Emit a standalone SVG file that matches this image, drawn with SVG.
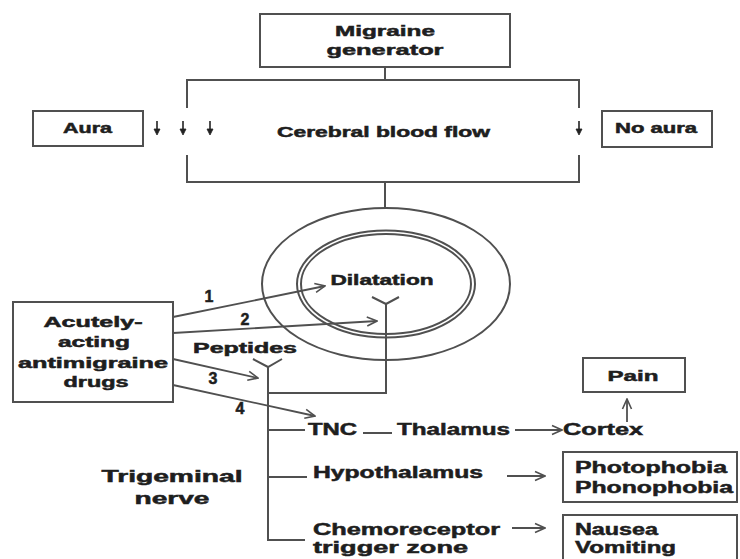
<svg xmlns="http://www.w3.org/2000/svg" width="740" height="559" viewBox="0 0 740 559">
<defs>
<style>
.bx{fill:none;stroke:#505050;stroke-width:2}
.ln{fill:none;stroke:#505050;stroke-width:2}
.ar{fill:none;stroke:#505050;stroke-width:1.8;marker-end:url(#oa)}
.t{font-family:"Liberation Sans",Arial,sans-serif;font-weight:bold;fill:#1e1e1e;stroke:#1e1e1e;stroke-width:0.5;text-anchor:middle}
.tl{font-family:"Liberation Sans",Arial,sans-serif;font-weight:bold;fill:#1e1e1e;stroke:#1e1e1e;stroke-width:0.5;text-anchor:start}
.s13{font-size:14px}.s14{font-size:14px}.s15{font-size:15px}.s16{font-size:16px}
</style>
<marker id="oa" viewBox="0 0 12 12" refX="11" refY="6" markerWidth="12" markerHeight="12" markerUnits="userSpaceOnUse" orient="auto">
<path d="M1,1.5 L11,6 L1,10.5" fill="none" stroke="#505050" stroke-width="1.6"/>
</marker>
</defs>
<rect width="740" height="559" fill="#ffffff"/>

<g id="migraine-generator">
<rect class="bx" x="260" y="14" width="250" height="53"/>
<text class="t s15" x="385" y="36" textLength="100" lengthAdjust="spacingAndGlyphs">Migraine</text>
<text class="t s15" x="385" y="55" textLength="117" lengthAdjust="spacingAndGlyphs">generator</text>
</g>

<g id="aura">
<rect class="bx" x="33" y="111" width="110" height="35"/>
<text class="t s14" x="87.5" y="133" textLength="49" lengthAdjust="spacingAndGlyphs">Aura</text>
</g>

<g id="no-aura">
<rect class="bx" x="602" y="111" width="110" height="36"/>
<text class="t s14" x="656" y="133" textLength="82" lengthAdjust="spacingAndGlyphs">No aura</text>
</g>

<g id="cerebral-blood-flow">
<text class="t s13" x="383.5" y="136.5" textLength="213" lengthAdjust="spacingAndGlyphs">Cerebral blood flow</text>
<g fill="#222" stroke="#222" stroke-width="1.6">
<line x1="157" y1="121" x2="157" y2="130"/><path d="M154,129 L160,129 L157,135 Z" stroke-width="0.8"/>
<line x1="183" y1="121" x2="183" y2="130"/><path d="M180,129 L186,129 L183,135 Z" stroke-width="0.8"/>
<line x1="210" y1="121" x2="210" y2="130"/><path d="M207,129 L213,129 L210,135 Z" stroke-width="0.8"/>
<line x1="579" y1="121" x2="579" y2="130"/><path d="M576,129 L582,129 L579,135 Z" stroke-width="0.8"/>
</g>
</g>

<g id="vessel">
<ellipse class="ln" cx="386" cy="284" rx="124" ry="76"/>
<ellipse class="ln" cx="386" cy="284" rx="89" ry="53.5" stroke-width="1.6"/>
<ellipse class="ln" cx="386" cy="284" rx="85" ry="50" stroke-width="1.6"/>
<text class="t s14" x="382" y="285" textLength="103" lengthAdjust="spacingAndGlyphs">Dilatation</text>
</g>

<g id="acutely-acting-drugs">
<rect class="bx" x="13" y="302" width="160" height="100"/>
<text class="t s14" x="93" y="327" textLength="99" lengthAdjust="spacingAndGlyphs">Acutely-</text>
<text class="t s14" x="94" y="347" textLength="72" lengthAdjust="spacingAndGlyphs">acting</text>
<text class="t s14" x="93" y="368" textLength="150" lengthAdjust="spacingAndGlyphs">antimigraine</text>
<text class="t s14" x="96" y="387" textLength="65" lengthAdjust="spacingAndGlyphs">drugs</text>
</g>

<g id="peptides">
<text class="t s14" x="245" y="353" textLength="104" lengthAdjust="spacingAndGlyphs">Peptides</text>
</g>

<g id="tnc"><text class="tl s16" x="308" y="435" textLength="49" lengthAdjust="spacingAndGlyphs">TNC</text></g>
<g id="thalamus"><text class="tl s16" x="397" y="435" textLength="113" lengthAdjust="spacingAndGlyphs">Thalamus</text></g>
<g id="cortex"><text class="tl s16" x="563" y="435" textLength="80" lengthAdjust="spacingAndGlyphs">Cortex</text></g>

<g id="pain">
<rect class="bx" x="583" y="358" width="102" height="34"/>
<text class="t s15" x="633" y="381" textLength="51" lengthAdjust="spacingAndGlyphs">Pain</text>
</g>

<g id="hypothalamus"><text class="tl s16" x="313" y="478" textLength="170" lengthAdjust="spacingAndGlyphs">Hypothalamus</text></g>

<g id="photophobia">
<rect class="bx" x="563" y="452" width="174" height="50"/>
<text class="tl s16" x="575" y="473" textLength="152" lengthAdjust="spacingAndGlyphs">Photophobia</text>
<text class="tl s16" x="575" y="493" textLength="158" lengthAdjust="spacingAndGlyphs">Phonophobia</text>
</g>

<g id="chemoreceptor">
<text class="tl s16" x="313" y="535" textLength="187" lengthAdjust="spacingAndGlyphs">Chemoreceptor</text>
<text class="tl s16" x="313" y="553" textLength="155" lengthAdjust="spacingAndGlyphs">trigger zone</text>
</g>

<g id="nausea">
<rect class="bx" x="563" y="515" width="174" height="60"/>
<text class="tl s16" x="575" y="535" textLength="83" lengthAdjust="spacingAndGlyphs">Nausea</text>
<text class="tl s16" x="575" y="553" textLength="101" lengthAdjust="spacingAndGlyphs">Vomiting</text>
</g>

<g id="trigeminal-nerve">
<text class="t s16" x="172" y="482" textLength="141" lengthAdjust="spacingAndGlyphs">Trigeminal</text>
<text class="t s16" x="172" y="504" textLength="75" lengthAdjust="spacingAndGlyphs">nerve</text>
</g>

<g id="connectors">
<line class="ln" x1="385" y1="67" x2="385" y2="80"/>
<path class="ln" d="M187,108 L187,80 L579,80 L579,108"/>
<path class="ln" d="M187,155 L187,182 L579,182 L579,155"/>
<line class="ln" x1="385" y1="182" x2="385" y2="208"/>
<path class="ln" d="M372,297 L386,304 L399,297" stroke-width="1.8"/>
<path class="ln" d="M386,304 L386,393 L268,393"/>
<path class="ln" d="M253,359 L268,367 L282,359" stroke-width="1.8"/>
<line class="ln" x1="268" y1="367" x2="268" y2="541"/>
<line class="ln" x1="267" y1="430" x2="305" y2="430"/>
<line class="ln" x1="267" y1="477" x2="307" y2="477"/>
<line class="ln" x1="267" y1="540" x2="305" y2="540"/>
<line class="ln" x1="363" y1="433" x2="392" y2="433"/>
<line class="ar" x1="173" y1="317" x2="325" y2="286"/>
<line class="ar" x1="173" y1="333" x2="377" y2="321"/>
<line class="ar" x1="173" y1="359" x2="258" y2="378"/>
<line class="ar" x1="173" y1="385" x2="315" y2="416"/>
<text class="t s16" x="209" y="302">1</text>
<text class="t s16" x="245" y="325">2</text>
<text class="t s16" x="213" y="384">3</text>
<text class="t s16" x="240" y="414">4</text>
<line class="ar" x1="515" y1="430" x2="562" y2="430"/>
<line class="ar" x1="627" y1="422" x2="627" y2="399"/>
<line class="ar" x1="507" y1="476" x2="545" y2="476"/>
<line class="ar" x1="512" y1="528" x2="545" y2="528"/>
</g>
</svg>
